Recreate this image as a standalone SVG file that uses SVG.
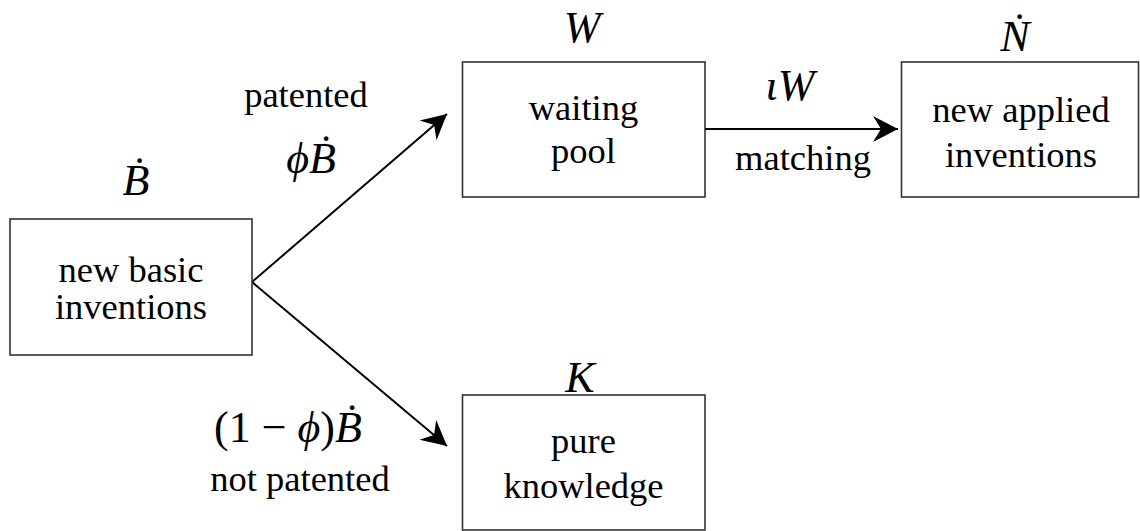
<svg xmlns="http://www.w3.org/2000/svg" width="1140" height="531" viewBox="0 0 1140 531">
<style>
.box{fill:#fff;stroke:#333;stroke-width:1.6}
text{font-family:"Liberation Serif","Times New Roman",serif;fill:#000;text-anchor:middle}
.t{font-size:36.5px}
.m{font-style:italic;font-size:44px}
.m2{font-size:44px}
.c{stroke:#000;stroke-width:2;fill:none}
</style>
<defs>
<marker id="ah" markerUnits="userSpaceOnUse" markerWidth="40" markerHeight="40" viewBox="-30 -20 40 40" refX="0" refY="0" orient="auto">
<path d="M0,0 L-25,-13 L-17,0 L-25,13 Z" fill="#000"/>
</marker>
</defs>
<rect width="1140" height="531" fill="#fff"/>
<g id="connectors">
<line class="c" x1="252" y1="282" x2="447" y2="114" marker-end="url(#ah)"/>
<line class="c" x1="252" y1="282" x2="447" y2="446" marker-end="url(#ah)"/>
<line class="c" x1="705" y1="129" x2="898" y2="129" marker-end="url(#ah)"/>
</g>
<g id="basic">
<rect class="box" x="10" y="219" width="242" height="136"/>
<text class="t" x="131" y="281.5">new basic</text>
<text class="t" x="131" y="318.5">inventions</text>
<text class="m" x="136" y="195">Ḃ</text>
</g>
<g id="waiting">
<rect class="box" x="462.5" y="62" width="242.5" height="135"/>
<text class="t" x="583.5" y="120">waiting</text>
<text class="t" x="583.5" y="163">pool</text>
<text class="m" x="582" y="42">W</text>
</g>
<g id="applied">
<rect class="box" x="901.5" y="62" width="237" height="135"/>
<text class="t" x="1021" y="121.5">new applied</text>
<text class="t" x="1021" y="166.5">inventions</text>
<text class="m" x="1015" y="51" font-size="46">Ṅ</text>
</g>
<g id="knowledge">
<rect class="box" x="462.5" y="395" width="242.5" height="135"/>
<text class="t" x="583.5" y="453">pure</text>
<text class="t" x="583.5" y="498">knowledge</text>
<text class="m" x="580" y="392">K</text>
</g>
<g id="labels">
<text class="t" x="306" y="107">patented</text>
<text class="m" x="311" y="173">ϕḂ</text>
<text class="m" x="790" y="100">ιW</text>
<text class="t" x="803" y="170">matching</text>
<text class="m2" x="288" y="442">(1 − <tspan font-style="italic">ϕ</tspan>)<tspan font-style="italic">Ḃ</tspan></text>
<text class="t" x="300" y="491">not patented</text>
</g>
</svg>
